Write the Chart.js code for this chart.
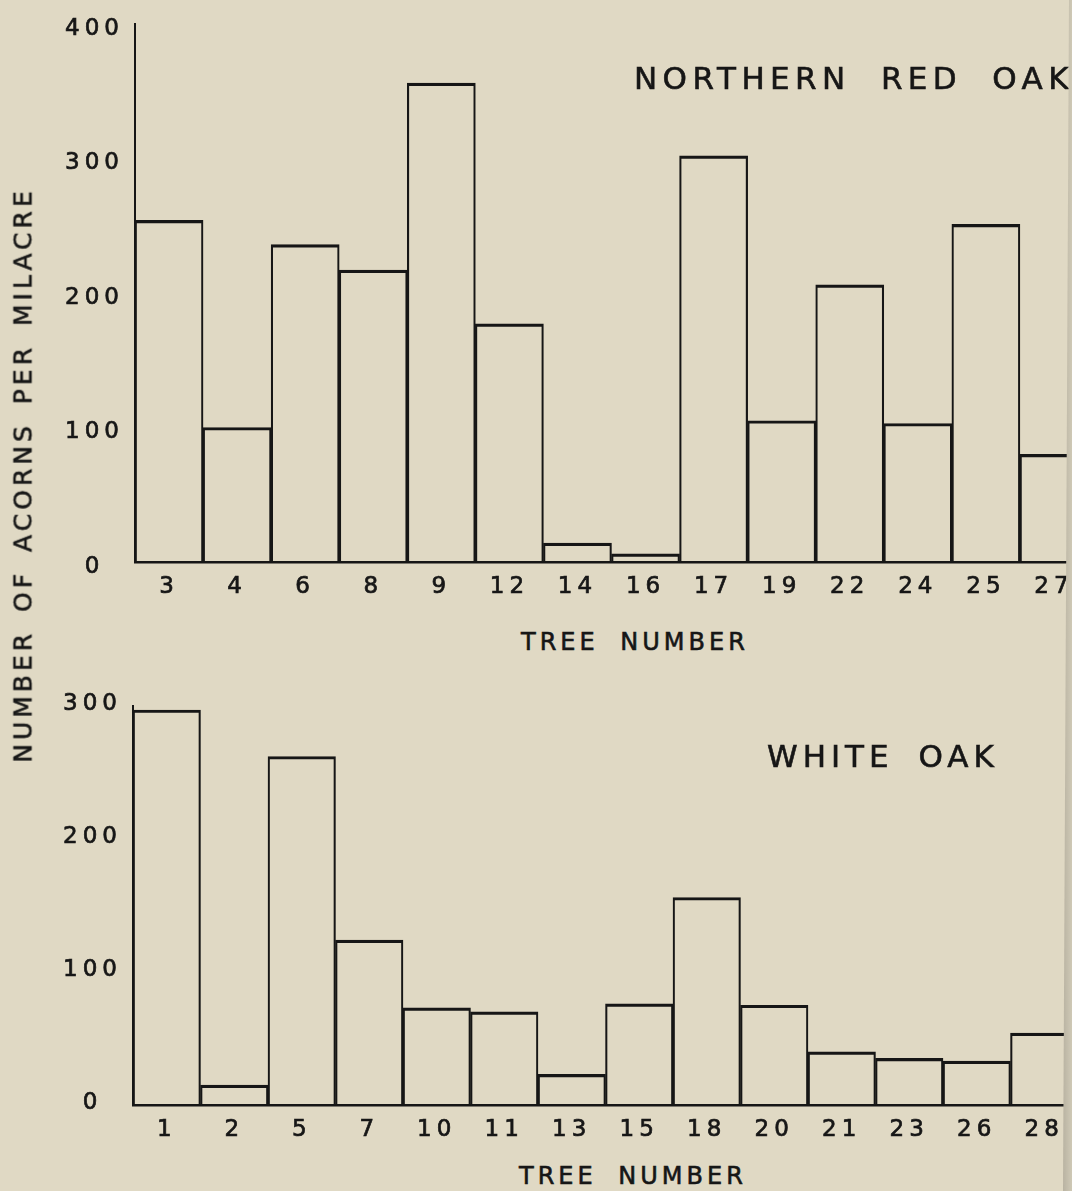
<!DOCTYPE html>
<html>
<head>
<meta charset="utf-8">
<script src="https://cdn.jsdelivr.net/npm/chart.js@4/dist/chart.umd.min.js"></script>
<style>
  html, body { margin: 0; padding: 0; width: 1072px; height: 1191px; overflow: hidden; background: #e0d9c4; }
  body { position: relative; font-family: "DejaVu Sans", sans-serif; color: #161616; }
  canvas { position: absolute; left: 0; }
  #topChart { top: 0; }
  #bottomChart { top: 690px; }
  .label { position: absolute; white-space: nowrap; line-height: 1; -webkit-text-stroke: 0.6px #161616; }
  .panelTitle { font-size: 31px; letter-spacing: 5px; word-spacing: 10px; }
  .axisTitle { font-size: 24px; letter-spacing: 4px; word-spacing: 10px; }
  #yTitle { left: 23px; top: 475px; font-size: 25px; letter-spacing: 4px; word-spacing: 6px;
            transform: translate(-50%, -50%) rotate(-90deg); }
  #pageEdge { position: absolute; left: 1060px; top: 0; width: 12px; height: 1191px;
              background: linear-gradient(to right, #8f8a7c 0px, #b9b3a2 3px, #cfc9b6 12px);
              clip-path: polygon(9px 0, 12px 0, 12px 100%, 3px 100%); }
</style>
</head>
<body>
<canvas id="topChart" width="1088" height="602"></canvas>
<canvas id="bottomChart" width="1078" height="455"></canvas>

<div class="label panelTitle" style="left:634px; top:63px; letter-spacing:5.4px; word-spacing:15px;">NORTHERN RED OAK</div>
<div class="label panelTitle" style="left:767px; top:741px;">WHITE OAK</div>
<div class="label axisTitle" style="left:521px; top:630px;">TREE NUMBER</div>
<div class="label axisTitle" style="left:519px; top:1164px;">TREE NUMBER</div>
<div class="label" id="yTitle">NUMBER OF ACORNS PER MILACRE</div>
<div id="pageEdge"></div>

<script>
// Northern red oak
const redOakTrees = ['3', '4', '6', '8', '9', '12', '14', '16', '17', '19', '22', '24', '25', '27'];
const redOakAcorns = [254, 100, 236, 217, 356, 177, 14, 6, 302, 105, 206, 103, 251, 80];
const redOakTicks = [0, 100, 200, 300, 400];

// White oak
const whiteOakTrees = ['1', '2', '5', '7', '10', '11', '13', '15', '18', '20', '21', '23', '26', '28'];
const whiteOakAcorns = [297, 15, 262, 124, 73, 70, 23, 76, 156, 75, 40, 35, 33, 54];
const whiteOakTicks = [0, 100, 200, 300];

const ink = '#161616';
const tickFont = { family: 'DejaVu Sans', size: 23 };

//letter spacing on the canvas text (lost whenever the canvas is resized)
const spacing = {
  id: 'spacing',
  beforeUpdate: (chart) => { chart.ctx.letterSpacing = '5px'; },
  beforeDraw: (chart) => { chart.ctx.letterSpacing = '5px'; }
};

const makeChart = (canvasId, trees, acorns, ticks, axisWidth, axisHeight, padTop, labelShift) => {
  const data = {
    labels: trees,
    datasets: [{
      data: acorns,
      backgroundColor: 'rgba(0,0,0,0)',
      borderColor: ink,
      borderWidth: { top: 2.5, left: 1.5, right: 1.5, bottom: 0 },
      borderSkipped: 'start',
      barPercentage: 1,
      categoryPercentage: 1,
    }]
  };

  const config = {
    type: 'bar',
    data: data,
    plugins: [spacing],
    options: {
      responsive: false,
      animation: false,
      layout: { padding: { top: padTop, left: 0, right: 0, bottom: 0 } },
      plugins: {
        legend: { display: false },
        tooltip: { enabled: false },
        title: { display: false }
      },
      scales: {
        x: {
          grid: { display: false, drawTicks: false },
          border: { display: true, color: ink, width: 2.5 },
          ticks: { color: ink, font: tickFont, padding: 11, maxRotation: 0, autoSkip: false,
                   textStrokeColor: ink, textStrokeWidth: 0.7 },
          afterFit: (scale) => { scale.height = axisHeight; }
        },
        y: {
          min: 0,
          max: ticks[ticks.length - 1],
          afterBuildTicks: (scale) => { scale.ticks = ticks.map(v => ({ value: v })); },
          grid: { display: false, drawTicks: false },
          border: { display: true, color: ink, width: 2 },
          ticks: { color: ink, font: tickFont, crossAlign: 'center', padding: 11, labelOffset: labelShift,
                   textStrokeColor: ink, textStrokeWidth: 0.7 },
          afterFit: (scale) => {
            scale.width = axisWidth;
            scale.paddingTop = 0;
            scale.paddingBottom = 0;
          }
        }
      }
    }
  };

  return new Chart(document.getElementById(canvasId), config);
}

makeChart('topChart', redOakTrees, redOakAcorns, redOakTicks, 135, 40, 24, 5);
makeChart('bottomChart', whiteOakTrees, whiteOakAcorns, whiteOakTicks, 133, 40, 16, -2);
</script>
</body>
</html>
